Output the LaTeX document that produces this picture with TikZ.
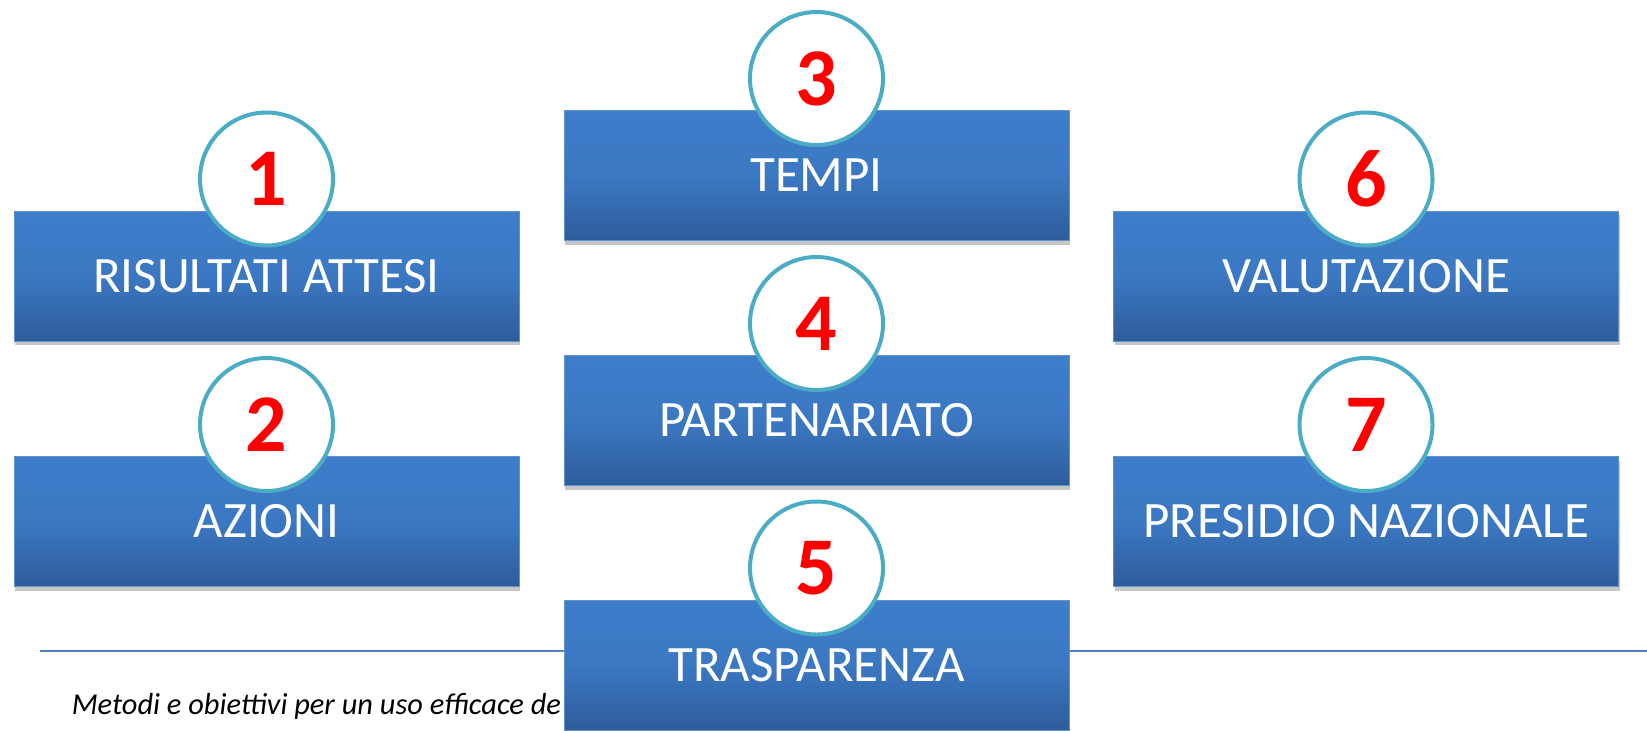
\documentclass[tikz,border=0pt]{standalone}
\usepackage{fontspec}
\setmainfont{Carlito}
\usetikzlibrary{shadows}

\definecolor{boxtop}{RGB}{61,125,202}
\definecolor{boxbot}{RGB}{46,92,154}
\definecolor{boxedge}{RGB}{96,146,206}
\definecolor{ringcol}{RGB}{75,172,198}
\definecolor{rulecol}{RGB}{79,129,189}
\definecolor{numred}{RGB}{255,0,0}

\tikzset{every picture/.style={line width=0.75pt},
  headbox/.style={rectangle, draw=boxedge, line width=0.4pt,
    top color=boxtop, bottom color=boxbot, middle color=boxtop!85!boxbot,
    minimum width=252.5pt, minimum height=65pt, inner sep=0pt,
    text=white, font=\fontsize{25.5}{30}\selectfont,
    drop shadow={shadow xshift=0.6pt, shadow yshift=-2pt, opacity=0.45}},
  numcircle/.style={circle, draw=ringcol, line width=2pt, fill=white,
    minimum size=66.5pt, inner sep=0pt,
    text=numred, font=\fontsize{41}{45}\selectfont\bfseries}}

\begin{document}
\begin{tikzpicture}[x=0.5pt,y=0.5pt,yscale=-1,xscale=1]
	\useasboundingbox (0,0) rectangle (1647,730);
	%Straight Lines
	\coordinate (rulestart) at (40,651);
	\coordinate (ruleend) at (1647,651);
	\draw [color=rulecol, line width=1pt] (rulestart) -- (ruleend);
	% Text Node
	\node (footer) [anchor=base west, inner sep=0pt, font=\fontsize{15.2}{18}\selectfont\itshape] at (71,714) {Metodi e obiettivi per un uso efficace de};
	
	%Shape: Rectangle
	\node (risultati) [headbox] at (266.5,276) {RISULTATI ATTESI};
	%Shape: Rectangle
	\node (azioni) [headbox] at (266.5,521.5) {AZIONI};
	%Shape: Rectangle
	\node (tempi) [headbox] at (816.5,175.5) {TEMPI};
	%Shape: Rectangle
	\node (partenariato) [headbox] at (816.5,420.5) {PARTENARIATO};
	%Shape: Rectangle
	\node (trasparenza) [headbox] at (816.5,665) {TRASPARENZA};
	%Shape: Rectangle
	\node (valutazione) [headbox] at (1366,276) {VALUTAZIONE};
	%Shape: Rectangle
	\node (presidio) [headbox] at (1366,521.5) {PRESIDIO NAZIONALE};
	
	%Shape: Circle
	\node (n1) [numcircle] at (266.5,179) {1};
	%Shape: Circle
	\node (n2) [numcircle] at (266.5,424.5) {2};
	%Shape: Circle
	\node (n3) [numcircle] at (816.5,78.5) {3};
	%Shape: Circle
	\node (n4) [numcircle] at (816.5,323.5) {4};
	%Shape: Circle
	\node (n5) [numcircle] at (816.5,568) {5};
	%Shape: Circle
	\node (n6) [numcircle] at (1366,179) {6};
	%Shape: Circle
	\node (n7) [numcircle] at (1366,424.5) {7};
\end{tikzpicture}
\end{document}
